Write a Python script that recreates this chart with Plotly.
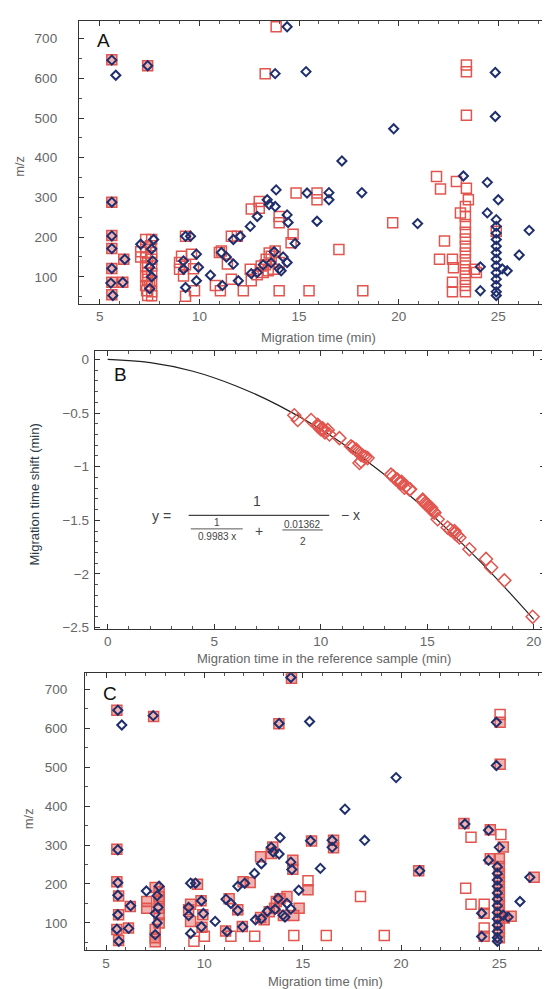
import plotly.graph_objects as go

# ---------------- DATA ----------------
# Panel A: reference-sample peaks (red squares) before alignment
a_sq_filled_x = [5.6, 5.6, 5.6, 5.6, 5.6, 5.6, 5.6, 6.2, 6.15, 7.4]
a_sq_filled_y = [647, 288, 204, 171, 121, 86, 55, 144, 86, 632]
a_sq_open_x = [13.85, 13.3, 23.4, 23.4, 23.4,
               7.05, 7.3, 7.6, 7.3, 7.55, 7.3, 7.6, 7.3, 7.6, 7.4, 7.3, 7.6, 7.4, 7.6, 7.3, 7.4, 7.6, 7.3, 7.5, 7.35, 7.6, 7.4, 7.6, 7.05,
               9.3, 9.1, 9.0, 9.0, 9.2, 9.3, 9.75, 9.3, 9.6, 9.7,
               11.0, 11.1, 11.4, 10.8, 11.05, 11.6, 11.6, 11.9, 12.2, 12.55, 12.6, 12.6,
               13.0, 13.0, 13.1, 13.35, 13.6, 13.8, 13.45, 13.2, 13.7, 14.0, 13.5, 12.9, 13.3,
               14.0, 14.0, 14.7, 14.6, 14.0, 14.85, 15.9, 15.9, 15.5, 17.0, 18.2, 19.7,
               21.9, 22.1, 22.3, 22.05, 22.7, 22.75, 22.7, 22.7, 22.9, 23.1, 23.4, 23.5, 23.35, 23.35,
               23.35, 23.35, 23.35, 23.35, 23.35, 23.35, 23.35, 23.35, 23.35, 23.35, 23.35, 23.8, 23.9, 24.9]
a_sq_open_y = [730, 612, 634, 617, 507,
               163, 194, 194, 175, 178, 161, 161, 148, 144, 135, 127, 127, 111, 108, 100, 94, 90, 78, 78, 65, 62, 53, 52, 150,
               202, 152, 136, 119, 102, 130, 65, 51, 157, 120,
               161, 165, 132, 78, 65, 94, 202, 202, 65, 119, 90, 271,
               290, 273, 127, 144, 152, 165, 115, 111, 119, 136, 160, 105, 130,
               252, 236, 207, 186, 65, 311, 311, 294, 65, 169, 65, 236,
               353, 321, 190, 144, 144, 123, 86, 62, 340, 261, 323, 294, 277, 252,
               232, 212, 195, 177, 160, 143, 127, 110, 94, 78, 62, 119, 111, 215]

# Sample peaks (blue diamonds) - same in panels A and C
dm_x = [14.4, 5.8, 13.8, 15.35, 24.85, 24.85, 19.75, 17.15, 23.25, 24.45, 13.85, 15.4, 16.5, 16.5, 18.15, 25.0,
        13.4, 13.5, 13.8, 12.9, 12.55, 14.4, 14.45, 15.9, 20.95, 24.45, 26.55, 26.05,
        24.9, 24.9, 24.9, 24.9, 24.9, 24.9, 24.9, 24.9, 24.9, 24.9, 24.9, 24.9, 24.9,
        25.45, 25.2, 24.1, 24.1, 14.8, 14.4, 14.1, 13.75, 11.1, 11.7, 11.95, 11.15, 10.55,
        9.3, 9.55, 9.85, 9.95, 9.85, 9.2, 9.3, 9.2, 7.05, 7.7,
        5.6, 5.6, 5.6, 5.6, 5.55, 5.65, 6.25, 6.15, 5.6, 7.4, 12.05, 11.7, 12.9, 12.6, 13.2, 13.6, 14.0,
        7.6, 7.65, 7.6, 7.5, 7.5, 11.35, 14.2]
dm_y = [730, 608, 612, 617, 615, 504, 473, 392, 354, 338, 319, 311, 312, 294, 312, 294,
        294, 282, 277, 252, 227, 256, 237, 240, 234, 261, 217, 155,
        244, 227, 210, 194, 177, 161, 144, 127, 110, 94, 78, 62, 53,
        115, 120, 125, 65, 184, 136, 115, 163, 161, 132, 90, 78, 104,
        202, 202, 157, 124, 90, 119, 73, 140, 182, 194,
        288, 203, 171, 121, 84, 53, 144, 86, 646, 632, 202, 194, 111, 108, 130, 135, 120,
        170, 140, 100, 70, 124, 150, 150]

# Panel B: migration time shift vs reference time
b_x = [8.76, 8.92, 9.55, 9.86, 9.9, 10.0, 10.09, 10.1, 10.2, 10.33, 10.41, 10.88,
       11.42, 11.5, 11.66, 11.7, 11.82, 11.89, 11.9, 12.0, 12.1, 12.2,
       13.3, 13.4, 13.54, 13.6, 13.7, 13.77, 13.8, 13.93, 14.0, 14.16, 14.2,
       14.79, 14.8, 14.9, 14.95, 15.0, 15.1, 15.18, 15.2, 15.3, 15.34, 15.49,
       15.96, 16.1, 16.28, 16.3, 16.4, 16.51, 16.98, 17.76, 18.0, 18.62, 19.95]
b_y = [-0.52, -0.565, -0.565, -0.61, -0.63, -0.65, -0.642, -0.66, -0.68, -0.657, -0.70, -0.734,
       -0.81, -0.82, -0.84, -0.85, -0.966, -0.89, -0.95, -0.90, -0.91, -0.92,
       -1.074, -1.09, -1.12, -1.12, -1.15, -1.151, -1.14, -1.197, -1.18, -1.213, -1.21,
       -1.306, -1.32, -1.34, -1.352, -1.36, -1.37, -1.383, -1.40, -1.42, -1.43, -1.49,
       -1.568, -1.59, -1.60, -1.62, -1.64, -1.66, -1.77, -1.86, -1.94, -2.06, -2.40]
curve_x = [0, 2, 4, 6, 8, 10, 12, 14, 16, 18, 20]
curve_y = [0, -0.03, -0.11, -0.245, -0.426, -0.652, -0.924, -1.238, -1.594, -1.99, -2.424]

# Panel C: reference-sample peaks after alignment
c_sq_filled_x = [5.55, 7.42, 13.79, 14.43, 25.04, 25.04, 5.55, 5.55, 5.64, 5.64, 5.55, 6.14, 6.23, 5.64,
                 23.2, 24.54, 24.54, 25.2, 15.45, 16.57, 16.57, 20.9, 26.77, 24.23, 24.23,
                 25.0, 25.0, 25.0, 25.0, 25.0, 25.0, 25.0, 25.0, 25.0, 25.0, 25.0, 25.0, 25.0, 25.6, 25.25,
                 15.27, 11.26, 11.7, 11.08, 11.93, 11.97, 12.33, 12.86, 13.48, 13.4, 14.5, 14.5, 14.55, 14.82,
                 14.02, 13.57, 13.85, 14.2, 13.66, 13.04, 13.3, 12.86,
                 9.65, 9.3, 9.2, 9.83, 9.92, 9.3, 9.88,
                 7.5, 7.7, 7.7, 7.7, 7.7, 7.7, 7.5, 7.5, 7.07, 7.07, 7.7, 7.5]
c_sq_filled_y = [646, 630, 611, 728, 615, 507, 289, 206, 169, 121, 83, 87, 142, 55,
                 355, 339, 265, 295, 310, 312, 293, 234, 217, 125, 66,
                 265, 245, 228, 211, 195, 178, 161, 145, 128, 112, 95, 78, 62, 117, 113,
                 185, 162, 134, 79, 91, 206, 204, 270, 295, 278, 261, 238, 119, 138,
                 119, 138, 162, 168, 155, 108, 129, 114,
                 199, 148, 134, 157, 121, 104, 89,
                 191, 180, 159, 138, 121, 100, 83, 62, 155, 138, 168, 52]
c_sq_open_x = [25.04, 24.23, 23.56, 23.29, 23.56, 24.23, 25.08,
               15.27, 17.94, 19.15, 16.2, 14.55, 12.56, 11.35, 10.0, 9.47]
c_sq_open_y = [635, 87, 320, 189, 148, 148, 327,
               208, 168, 68, 68, 68, 66, 66, 66, 53]

# ---------------- STYLE ----------------
RED = "#e2554e"
RED_FILL = "rgba(226,85,78,0.45)"
BLUE = "#1f2f6e"
GREY = "#666666"
FONT = "Liberation Sans, Arial, sans-serif"

fig = go.Figure()

def squares(x, y, xa, ya, fill):
    fig.add_trace(go.Scatter(
        x=x, y=y, mode="markers", xaxis=xa, yaxis=ya, showlegend=False,
        marker=dict(symbol="square", size=10,
                    color=fill, line=dict(color=RED, width=1.5))))

def diamonds(xa, ya):
    fig.add_trace(go.Scatter(
        x=dm_x, y=dm_y, mode="markers", xaxis=xa, yaxis=ya, showlegend=False,
        marker=dict(symbol="diamond-open", size=7, color=BLUE, line=dict(width=2))))

# Panel A
squares(a_sq_open_x, a_sq_open_y, "x", "y", "rgba(255,255,255,0)")
squares(a_sq_filled_x, a_sq_filled_y, "x", "y", RED_FILL)
diamonds("x", "y")

# Panel B
fig.add_trace(go.Scatter(x=curve_x, y=curve_y, mode="lines", xaxis="x2", yaxis="y2",
                         line=dict(color="#222222", width=1.2, shape="spline"), showlegend=False))
fig.add_trace(go.Scatter(x=b_x, y=b_y, mode="markers", xaxis="x2", yaxis="y2", showlegend=False,
                         marker=dict(symbol="diamond-open", size=10, color=RED, line=dict(width=1.5))))

# Panel C
squares(c_sq_open_x, c_sq_open_y, "x3", "y3", "rgba(255,255,255,0)")
squares(c_sq_filled_x, c_sq_filled_y, "x3", "y3", RED_FILL)
diamonds("x3", "y3")

def ax(domain, rng, dtick, minor, anchor, standoff):
    return dict(domain=domain, range=rng, anchor=anchor, dtick=dtick, tick0=0,
                ticks="inside", ticklen=5, tickcolor="#333", mirror="allticks",
                showline=True, linecolor="#333", linewidth=1.2, showgrid=False, zeroline=False,
                minor=dict(ticks="inside", ticklen=3, dtick=minor, tickcolor="#555", showgrid=False),
                tickfont=dict(family=FONT, size=13.5, color=GREY), ticklabelstandoff=standoff)

fig.update_layout(
    width=550, height=989, autosize=False,
    margin=dict(l=0, r=0, t=0, b=0),
    paper_bgcolor="white", plot_bgcolor="white",
    xaxis=ax([0.129, 0.991], [3.95, 27.75], 5, 1, "y", 0),
    yaxis=ax([0.6987, 0.9869], [31.7, 745], 100, 50, "x", 18),
    xaxis2=ax([0.158, 0.976], [-0.6, 20.52], 5, 1, "y2", 0),
    yaxis2=ax([0.368, 0.6512], [-2.51, 0.083], 0.5, 0.1, "x2", 2),
    xaxis3=ax([0.140, 0.9945], [3.93, 27.83], 5, 1, "y3", 0),
    yaxis3=ax([0.0404, 0.3225], [29.7, 740.7], 100, 50, "x3", 14),
)

def paper_text(t, px, py, size, color, angle=0):
    fig.add_annotation(text=t, x=px / 550, y=1 - py / 989, xref="paper", yref="paper",
                       showarrow=False, font=dict(family=FONT, size=size, color=color),
                       textangle=angle, xanchor="center", yanchor="middle")

# axis titles
paper_text("Migration time (min)", 310, 332, 13, GREY)
paper_text("m/z", 12, 160, 13, GREY, -90)
paper_text("Migration time in the reference sample (min)", 316, 655, 13, GREY)
paper_text("Migration time shift (min)", 27, 490, 13, "#2a3a46", -90)
paper_text("Migration time (min)", 317, 980, 13, GREY)
paper_text("m/z", 20, 817, 13, GREY, -90)

# panel letters
for txt, px, py in [("A", 95, 33), ("B", 112, 369), ("C", 102, 690)]:
    paper_text(txt, px, py, 19, "#111")

# equation in panel B (axis data coordinates)
eq_font = dict(family=FONT, size=14, color="#444")
small_font = dict(family=FONT, size=10, color="#444")
def eq_text(t, x, y, f):
    fig.add_annotation(text=t, x=x, y=y, xref="x2", yref="y2", showarrow=False, font=f,
                       xanchor="center", yanchor="middle")
eq_text("y =", 2.54, -1.46, eq_font)
eq_text("1", 7.0, -1.32, eq_font)
eq_text("1", 5.12, -1.52, small_font)
eq_text("0.9983 x", 5.12, -1.655, small_font)
eq_text("+", 7.09, -1.60, eq_font)
eq_text("0.01362", 9.15, -1.535, small_font)
eq_text("2", 9.15, -1.70, small_font)
eq_text("− x", 11.4, -1.45, eq_font)
for x0, x1, yy, w in [(3.8, 10.4, -1.455, 1.2), (3.9, 6.34, -1.58, 0.9), (8.2, 10.1, -1.59, 0.9)]:
    fig.add_shape(type="line", x0=x0, x1=x1, y0=yy, y1=yy, xref="x2", yref="y2",
                  line=dict(color="#444", width=w))

fig.write_html("out.html")
